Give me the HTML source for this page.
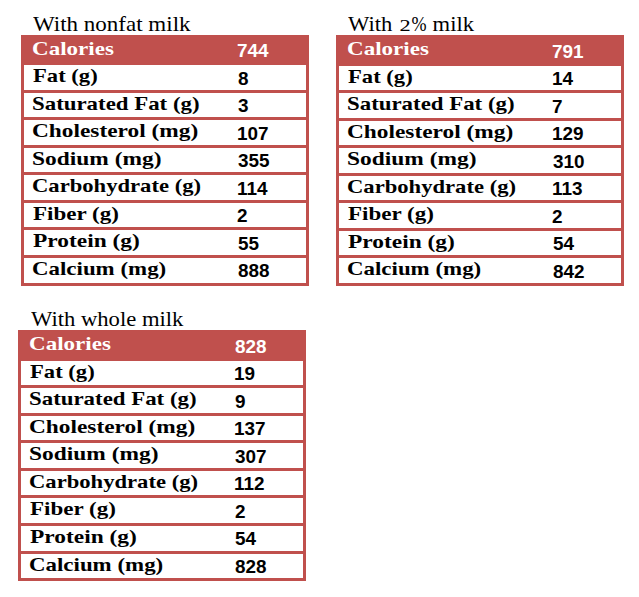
<!DOCTYPE html>
<html><head><meta charset="utf-8"><style>
html,body{margin:0;padding:0;background:#fff;width:639px;height:597px;overflow:hidden;position:relative}
.t{position:absolute;box-sizing:border-box;width:288px;height:251px;border:3px solid #C0504D;background:#fff}
.h{position:absolute;width:288px;height:30px;background:#C0504D}
.s{position:absolute;width:288px;height:3px;background:#C0504D}
.x{position:absolute;white-space:nowrap;transform-origin:0 0;margin:0;padding:0}
.l{font-family:"Liberation Serif",serif;font-weight:bold;font-size:19px;line-height:normal;color:#000}
.n{font-family:"Liberation Sans",sans-serif;font-weight:bold;font-size:18px;line-height:normal;color:#000}
.ti{font-family:"Liberation Serif",serif;font-weight:normal;font-size:21px;line-height:normal;color:#000}
.w{color:#fff}
.pc{display:inline-block;transform:scaleX(0.8);transform-origin:0 0;width:14.5px}
.os{font-size:16px;display:inline-block;transform:scaleX(1.3);transform-origin:0 0;width:11px;margin-left:1.5px}
</style></head><body>

<div class="t" style="left:21px;top:35px"></div>
<div class="h" style="left:21px;top:35px;height:30px"></div>
<div class="s" style="left:21px;top:90px"></div>
<div class="s" style="left:21px;top:117px"></div>
<div class="s" style="left:21px;top:145px"></div>
<div class="s" style="left:21px;top:172px"></div>
<div class="s" style="left:21px;top:200px"></div>
<div class="s" style="left:21px;top:227px"></div>
<div class="s" style="left:21px;top:255px"></div>
<div class="x ti" style="left:32.50px;top:11.50px;transform:scaleX(1.0957)">With nonfat milk</div>
<div class="x l w" style="left:31.89px;top:37.50px;transform:scaleX(1.2121)">Calories</div>
<div class="x n w" style="left:237.41px;top:40.80px;transform:scaleX(1.0500)">744</div>
<div class="x l" style="left:32.80px;top:64.50px;transform:scaleX(1.1906)">Fat (g)</div>
<div class="x n" style="left:237.67px;top:68.80px;transform:scaleX(1.0500)">8</div>
<div class="x l" style="left:31.90px;top:92.50px;transform:scaleX(1.2029)">Saturated Fat (g)</div>
<div class="x n" style="left:237.67px;top:96.00px;transform:scaleX(1.0500)">3</div>
<div class="x l" style="left:31.87px;top:119.50px;transform:scaleX(1.2285)">Cholesterol (mg)</div>
<div class="x n" style="left:236.89px;top:123.80px;transform:scaleX(1.0500)">107</div>
<div class="x l" style="left:31.87px;top:147.50px;transform:scaleX(1.2329)">Sodium (mg)</div>
<div class="x n" style="left:237.67px;top:151.00px;transform:scaleX(1.0500)">355</div>
<div class="x l" style="left:31.91px;top:174.50px;transform:scaleX(1.1907)">Carbohydrate (g)</div>
<div class="x n" style="left:236.89px;top:179.00px;transform:scaleX(1.0500)">114</div>
<div class="x l" style="left:32.80px;top:202.50px;transform:scaleX(1.2115)">Fiber (g)</div>
<div class="x n" style="left:237.41px;top:206.00px;transform:scaleX(1.0500)">2</div>
<div class="x l" style="left:32.79px;top:229.50px;transform:scaleX(1.2316)">Protein (g)</div>
<div class="x n" style="left:237.67px;top:234.00px;transform:scaleX(1.0500)">55</div>
<div class="x l" style="left:31.89px;top:257.50px;transform:scaleX(1.2055)">Calcium (mg)</div>
<div class="x n" style="left:237.67px;top:261.00px;transform:scaleX(1.0500)">888</div>
<div class="t" style="left:336px;top:35px"></div>
<div class="h" style="left:336px;top:35px;height:31px"></div>
<div class="s" style="left:336px;top:90px"></div>
<div class="s" style="left:336px;top:118px"></div>
<div class="s" style="left:336px;top:145px"></div>
<div class="s" style="left:336px;top:173px"></div>
<div class="s" style="left:336px;top:200px"></div>
<div class="s" style="left:336px;top:228px"></div>
<div class="s" style="left:336px;top:255px"></div>
<div class="x ti" style="left:348.20px;top:11.50px;transform:scaleX(1.0755)">With <span class="os">2</span><span class="pc">&#37;</span> milk</div>
<div class="x l w" style="left:346.89px;top:37.50px;transform:scaleX(1.2121)">Calories</div>
<div class="x n w" style="left:552.41px;top:41.80px;transform:scaleX(1.0500)">791</div>
<div class="x l" style="left:347.80px;top:65.50px;transform:scaleX(1.1906)">Fat (g)</div>
<div class="x n" style="left:551.89px;top:69.00px;transform:scaleX(1.0500)">14</div>
<div class="x l" style="left:346.90px;top:92.50px;transform:scaleX(1.2029)">Saturated Fat (g)</div>
<div class="x n" style="left:552.41px;top:97.00px;transform:scaleX(1.0500)">7</div>
<div class="x l" style="left:346.87px;top:120.50px;transform:scaleX(1.2285)">Cholesterol (mg)</div>
<div class="x n" style="left:551.89px;top:124.00px;transform:scaleX(1.0500)">129</div>
<div class="x l" style="left:346.87px;top:147.50px;transform:scaleX(1.2329)">Sodium (mg)</div>
<div class="x n" style="left:552.68px;top:152.00px;transform:scaleX(1.0500)">310</div>
<div class="x l" style="left:346.91px;top:175.50px;transform:scaleX(1.1907)">Carbohydrate (g)</div>
<div class="x n" style="left:551.89px;top:179.00px;transform:scaleX(1.0500)">113</div>
<div class="x l" style="left:347.80px;top:202.50px;transform:scaleX(1.2115)">Fiber (g)</div>
<div class="x n" style="left:552.41px;top:207.00px;transform:scaleX(1.0500)">2</div>
<div class="x l" style="left:347.79px;top:230.50px;transform:scaleX(1.2316)">Protein (g)</div>
<div class="x n" style="left:552.68px;top:234.00px;transform:scaleX(1.0500)">54</div>
<div class="x l" style="left:346.89px;top:257.50px;transform:scaleX(1.2055)">Calcium (mg)</div>
<div class="x n" style="left:552.68px;top:262.00px;transform:scaleX(1.0500)">842</div>
<div class="t" style="left:18px;top:330px"></div>
<div class="h" style="left:18px;top:330px;height:31px"></div>
<div class="s" style="left:18px;top:385px"></div>
<div class="s" style="left:18px;top:413px"></div>
<div class="s" style="left:18px;top:440px"></div>
<div class="s" style="left:18px;top:468px"></div>
<div class="s" style="left:18px;top:495px"></div>
<div class="s" style="left:18px;top:523px"></div>
<div class="s" style="left:18px;top:551px"></div>
<div class="x ti" style="left:30.60px;top:306.50px;transform:scaleX(1.0770)">With whole milk</div>
<div class="x l w" style="left:29.39px;top:332.50px;transform:scaleX(1.2121)">Calories</div>
<div class="x n w" style="left:235.17px;top:336.80px;transform:scaleX(1.0500)">828</div>
<div class="x l" style="left:30.30px;top:360.50px;transform:scaleX(1.1906)">Fat (g)</div>
<div class="x n" style="left:234.39px;top:364.00px;transform:scaleX(1.0500)">19</div>
<div class="x l" style="left:29.40px;top:387.50px;transform:scaleX(1.2029)">Saturated Fat (g)</div>
<div class="x n" style="left:234.91px;top:392.00px;transform:scaleX(1.0500)">9</div>
<div class="x l" style="left:29.37px;top:415.50px;transform:scaleX(1.2285)">Cholesterol (mg)</div>
<div class="x n" style="left:234.39px;top:419.00px;transform:scaleX(1.0500)">137</div>
<div class="x l" style="left:29.37px;top:442.50px;transform:scaleX(1.2329)">Sodium (mg)</div>
<div class="x n" style="left:235.17px;top:447.00px;transform:scaleX(1.0500)">307</div>
<div class="x l" style="left:29.41px;top:470.50px;transform:scaleX(1.1907)">Carbohydrate (g)</div>
<div class="x n" style="left:234.39px;top:474.00px;transform:scaleX(1.0500)">112</div>
<div class="x l" style="left:30.30px;top:497.50px;transform:scaleX(1.2115)">Fiber (g)</div>
<div class="x n" style="left:234.91px;top:502.00px;transform:scaleX(1.0500)">2</div>
<div class="x l" style="left:30.29px;top:525.50px;transform:scaleX(1.2316)">Protein (g)</div>
<div class="x n" style="left:235.17px;top:529.00px;transform:scaleX(1.0500)">54</div>
<div class="x l" style="left:29.39px;top:553.50px;transform:scaleX(1.2055)">Calcium (mg)</div>
<div class="x n" style="left:235.17px;top:557.00px;transform:scaleX(1.0500)">828</div>
</body></html>
